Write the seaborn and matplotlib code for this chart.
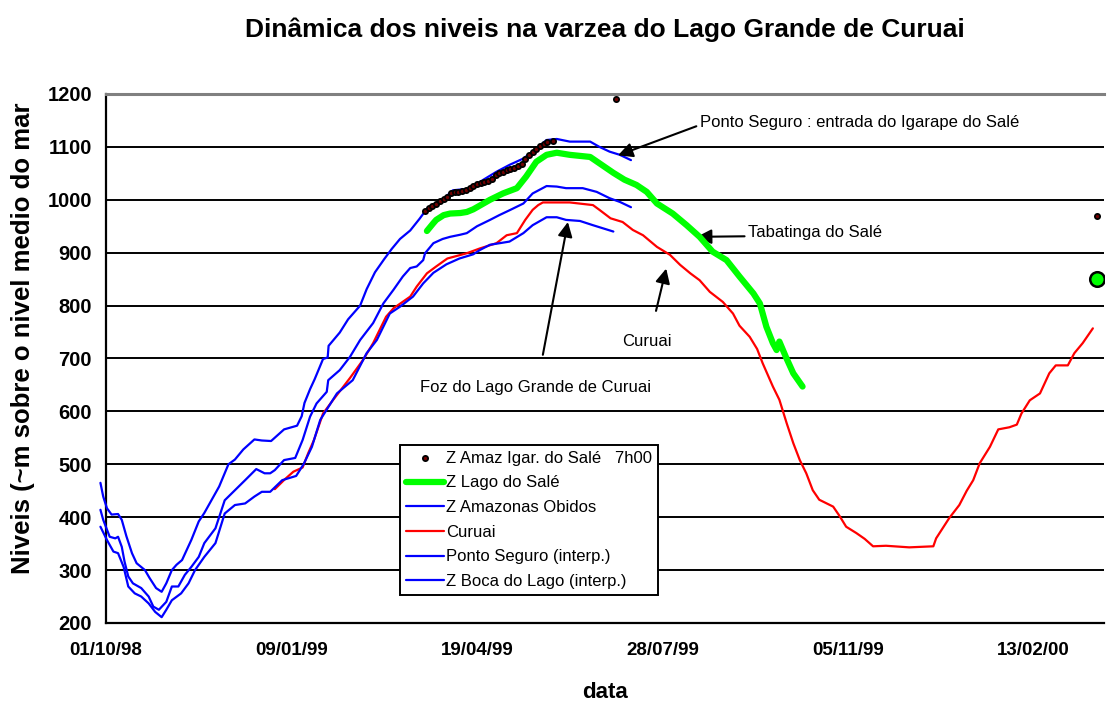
# niveis na varzea do Lago Grande de Curuai (out.png)

import matplotlib
matplotlib.use("Agg")
import matplotlib.pyplot as plt
import matplotlib.dates as mdates
import seaborn as sns
import pandas as pd

inicio = pd.Timestamp("1998-10-01")

# dias desde 01/10/98 e cotas (cm)
ponto_dias = [-3, -1.5, 0.5, 3, 6.5, 8.5, 11, 14, 16.5, 21, 23.5, 27, 30, 32.5, 35.5, 38, 41, 46, 50, 53,
              57, 61, 66, 69.5, 74, 80, 84, 89, 96, 103, 105.5, 107, 110, 112.5, 117, 119.5, 120, 126,
              130.5, 137, 140.5, 145, 150, 154, 158.5, 164, 169, 173, 182, 187, 196, 203, 210.5, 217.5,
              225, 232, 237.5, 243, 250, 261, 266, 271.5, 277, 283]
ponto_vals = [465, 439, 417, 405, 406, 395, 364, 332, 313, 300, 285, 266, 259, 275, 300, 310, 319, 357, 392, 408,
              433, 458, 500, 509, 528, 547, 545, 544, 566, 573, 591, 616, 642, 661, 699, 702, 724, 749,
              774, 800, 831, 863, 888, 907, 926, 942, 964, 983, 1002, 1018, 1021, 1037, 1053, 1066,
              1078, 1097, 1113, 1115, 1110, 1110, 1100, 1091, 1085, 1075]

obidos_dias = [-3, -1.5, 2, 5, 6.5, 8.5, 10, 12, 14.5, 19, 23, 25.5, 28.5, 32.5, 35.5, 39, 42.5, 46, 50, 53,
               59, 64, 69.5, 75, 81, 85.5, 88.5, 91, 96, 102, 106, 110, 113.5, 119, 119.8, 126, 131.5, 137,
               144, 149.5, 155, 160, 164, 167.5, 171, 172, 176.5, 181.5, 185.5, 191, 194.5, 200, 207, 212,
               218, 225, 230, 237.5, 243, 248, 257, 264.5, 271.5, 277, 283]
obidos_vals = [414, 395, 363, 360, 363, 344, 316, 288, 275, 266, 250, 231, 225, 240, 269, 269, 291, 306, 325, 351,
               379, 432, 451, 470, 491, 483, 483, 489, 508, 512, 546, 590, 615, 637, 659, 678, 703, 735,
               767, 804, 830, 855, 871, 874, 886, 899, 918, 926, 930, 934, 937, 950, 962, 971,
               981, 993, 1012, 1026, 1025, 1022, 1022, 1015, 1003, 996, 986]

boca_dias = [-3, 0.5, 4, 6.5, 9.5, 12, 15.5, 19, 23, 26.5, 30, 32.5, 35.5, 40.5, 44.5, 48, 53, 59, 64, 69.5,
             75, 80, 84, 88.5, 95, 102.5, 106.5, 111, 115.5, 124.5, 133, 140.5, 146, 153, 158.5, 165.5, 171,
             176.5, 183.5, 190.5, 198, 201.5, 207, 217.5, 225, 230, 237.5, 243, 248, 255.5, 262.5, 268, 273.5]
boca_vals = [382, 357, 335, 332, 306, 269, 256, 250, 237, 221, 211, 225, 243, 256, 275, 300, 325, 351, 407, 423,
             426, 439, 448, 448, 470, 478, 500, 533, 584, 634, 659, 710, 735, 785, 798, 817, 842,
             862, 878, 889, 897, 905, 915, 921, 937, 952, 967, 967, 962, 960, 952, 946, 940]

curuai_dias = [91, 96.5, 101, 106, 109, 112, 117, 122.5, 131.5, 138.5, 144, 151, 155, 164, 167.5, 173, 178, 184,
               194.5, 201.5, 210.5, 216, 221.5, 226, 230, 233, 235.5, 250, 262.5, 266, 272, 278.5, 284, 289.5,
               297, 304, 309.5, 315, 320, 325.5, 332.5, 338, 341.5, 347, 351, 354, 359.5, 363, 367, 370.5,
               374, 377.5, 381, 384.5, 392, 395.5, 399, 404.5, 409, 413.5, 420.5, 433, 446, 447.5, 451,
               454.5, 460, 464, 467.5, 471, 476.5, 481, 487, 491, 493.5, 498, 503.5, 508.5, 512, 518.5,
               522, 526.5, 532]
curuai_vals = [453, 472, 486, 494, 521, 545, 596, 622, 663, 697, 729, 779, 795, 817, 836, 861, 874, 889,
               899, 908, 918, 933, 937, 962, 981, 990, 995, 995, 990, 981, 965, 958, 943, 933,
               911, 896, 877, 861, 848, 826, 807, 785, 762, 741, 718, 691, 647, 622, 577, 540,
               508, 483, 451, 433, 420, 402, 382, 370, 359, 345, 346, 343, 345, 360, 379,
               398, 423, 450, 470, 502, 533, 566, 570, 575, 596, 621, 634, 672, 687, 687,
               710, 729, 757]

lago_dias = [173, 176.5, 178, 182, 185.5, 191, 194.5, 198, 200, 207, 214, 221.5, 226.5, 232, 237.5, 243, 250,
             261, 266, 273.5, 279.5, 286, 291.5, 297, 305.5, 313, 320, 327, 334.5, 341.5, 349, 352.5, 356,
             359.5, 361.5, 363, 366.5, 370.5, 375.5]
lago_vals = [941, 956, 962, 971, 974, 975, 977, 982, 986, 1000, 1012, 1022, 1044, 1072, 1085, 1089, 1085,
             1081, 1069, 1051, 1038, 1028, 1015, 993, 974, 952, 930, 902, 886, 855, 823, 804, 760,
             729, 716, 732, 703, 672, 647]
lago_ponto_dia = [534]
lago_ponto_val = [850]

igar_dias = [172, 174, 176, 178, 180, 182, 184, 186, 188, 190, 192, 194, 196, 198, 200, 202, 204, 206, 208,
             210, 212, 214, 216, 218, 220, 222, 224, 226, 228, 230, 232, 234, 236, 238, 241, 275, 534]
igar_vals = [979, 984, 989, 993, 997, 1001, 1006, 1012, 1014, 1015, 1016, 1018, 1022, 1026, 1029, 1031, 1034,
             1036, 1040, 1046, 1050, 1053, 1056, 1058, 1061, 1064, 1068, 1077, 1085, 1091, 1096, 1101, 1106,
             1109, 1111, 1190, 969]

tick_dias = [0, 100, 200, 300, 400, 500]


def datas(dias):
    return inicio + pd.to_timedelta(dias, unit="D")


sns.set_style("white")
plt.rcParams['font.family'] = ['Liberation Sans', 'DejaVu Sans']
plt.rcParams['text.color'] = 'black'
plt.rcParams['axes.labelcolor'] = 'black'
plt.rcParams['xtick.color'] = 'black'
plt.rcParams['ytick.color'] = 'black'

fig = plt.figure(figsize=(11.11, 7.04), dpi=100)
ax = fig.add_axes([106 / 1111, 1 - 623 / 704, 998 / 1111, 529 / 704])

azul = "#0000FF"

sns.scatterplot(x=datas(igar_dias), y=igar_vals, ax=ax, marker="o", s=14, color="#700000",
                edgecolor="black", linewidth=1.3, zorder=6, label="Z Amaz Igar. do Salé   7h00")
sns.lineplot(x=datas(lago_dias), y=lago_vals, ax=ax, color="#00FF00", lw=4.5, estimator=None,
             sort=False, zorder=4, label="Z Lago do Salé")
sns.lineplot(x=datas(obidos_dias), y=obidos_vals, ax=ax, color=azul, lw=1.6, estimator=None,
             sort=False, clip_on=False, zorder=3, label="Z Amazonas Obidos")
sns.lineplot(x=datas(curuai_dias), y=curuai_vals, ax=ax, color="#FF0000", lw=1.6, estimator=None,
             sort=False, zorder=3, label="Curuai")
sns.lineplot(x=datas(ponto_dias), y=ponto_vals, ax=ax, color=azul, lw=1.6, estimator=None,
             sort=False, clip_on=False, zorder=3, label="Ponto Seguro (interp.)")
sns.lineplot(x=datas(boca_dias), y=boca_vals, ax=ax, color=azul, lw=1.6, estimator=None,
             sort=False, clip_on=False, zorder=3, label="Z Boca do Lago (interp.)")
sns.scatterplot(x=datas(lago_ponto_dia), y=lago_ponto_val, ax=ax, marker="o", s=110, color="#00FF00",
                edgecolor="black", linewidth=1.8, zorder=6)

ax.set_xlim(datas([0])[0], datas([538])[0])
ax.set_ylim(200, 1200)
ax.set_yticks(range(200, 1201, 100))
ax.set_xticks(datas(tick_dias))
ax.xaxis.set_major_formatter(mdates.DateFormatter("%d/%m/%y"))
ax.yaxis.grid(True, color="black", lw=1.4)
ax.set_axisbelow(True)
for lab in ax.get_xticklabels() + ax.get_yticklabels():
    lab.set_fontweight("bold")
ax.tick_params(axis="both", direction="out", length=6, width=1.3, color="black", pad=4)
ax.tick_params(axis="y", labelsize=14.5)
ax.tick_params(axis="x", labelsize=13.5, pad=8)
ax.spines["left"].set_color("black")
ax.spines["left"].set_linewidth(1.6)
ax.spines["bottom"].set_color("black")
ax.spines["bottom"].set_linewidth(1.6)
ax.spines["top"].set_color("#808080")
ax.spines["top"].set_linewidth(2.2)
ax.spines["right"].set_visible(False)
ax.set_xlabel("")
ax.set_ylabel("")

leg = ax.legend(loc="upper left", bbox_to_anchor=(294 / 998, 178 / 529), borderaxespad=0,
                fontsize=12, frameon=True, fancybox=False, framealpha=1, edgecolor="black",
                handlelength=2.3, handletextpad=0.1, labelspacing=0.58, borderpad=0.35)
leg.get_frame().set_linewidth(1.4)

seta = dict(arrowstyle="-|>", color="black", lw=1.5, mutation_scale=22, shrinkA=0, shrinkB=0)

ax.annotate("Ponto Seguro : entrada do Igarape do Salé", xy=(datas([276])[0], 1084),
            xytext=(datas([320])[0], 1147), fontsize=12, ha="left", va="center",
            arrowprops=dict(seta, relpos=(0, 0.3)))
ax.annotate("Tabatinga do Salé", xy=(datas([318.5])[0], 930),
            xytext=(datas([346])[0], 939), fontsize=12, ha="left", va="center",
            arrowprops=dict(seta, relpos=(-0.01, 0.22)))
ax.annotate("", xy=(datas([302])[0], 870), xytext=(datas([296.5])[0], 790), arrowprops=seta)
ax.text(datas([291.5])[0], 733, "Curuai", fontsize=12, ha="center", va="center")
ax.annotate("", xy=(datas([249])[0], 958), xytext=(datas([235.5])[0], 707), arrowprops=seta)
ax.text(datas([231.5])[0], 646, "Foz do Lago Grande de Curuai", fontsize=12, ha="center", va="center")

fig.text(605 / 1111, 1 - 30 / 704, "Dinâmica dos niveis na varzea do Lago Grande de Curuai",
         fontsize=19, fontweight="bold", ha="center", va="center")
fig.text(605 / 1111, 1 - 692 / 704, "data", fontsize=16, fontweight="bold", ha="center", va="center")
fig.text(23 / 1111, 1 - 338 / 704, "Niveis (~m sobre o nivel medio do mar", fontsize=18.5,
         fontweight="bold", ha="center", va="center", rotation=90)

fig.savefig("out.png", dpi=100)
